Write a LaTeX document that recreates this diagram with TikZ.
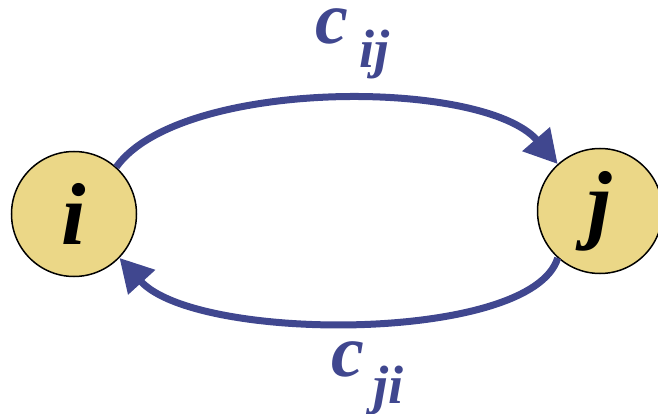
\documentclass[tikz,border=0pt]{standalone}
\usepackage{fontspec}
\setmainfont{Liberation Serif}[BoldItalicFont={Liberation Serif Bold Italic}, BoldFont={Liberation Serif Bold}, ItalicFont={Liberation Serif Italic}]
\usetikzlibrary{arrows.meta}
\definecolor{edgeblue}{RGB}{64,71,143}
\definecolor{nodefill}{RGB}{235,215,135}
\tikzset{
  vertex/.style={circle, draw=black, line width=1.5pt, fill=nodefill, minimum size=125pt, inner sep=0pt,
    font=\fontsize{88}{88}\selectfont\bfseries\itshape},
  edge/.style={draw=edgeblue, line width=7pt, -{Triangle[length=33pt,width=35pt]}},
  elabel/.style={anchor=base west, inner sep=0pt, text=edgeblue, font=\bfseries\itshape}
}
\begin{document}
\begin{tikzpicture}[x=1pt,y=-1pt]
\useasboundingbox (0,0) rectangle (658,414);
\node[vertex] (i) at (74,214) {i};
\node[vertex] (j) at (600,211) {j};
\draw[edge] (i.48) .. controls (180,78) and (483,78) .. (j.132);
\draw[edge] (j.-132) .. controls (532,343) and (197,343) .. (i.-44);
\node[elabel] (cij) at (315,44) {\fontsize{74}{74}\selectfont c\kern11pt\raisebox{-24pt}{\fontsize{54}{54}\selectfont ij}};
\node[elabel] (cji) at (331,376) {\fontsize{74}{74}\selectfont c\kern9pt\raisebox{-27pt}{\fontsize{54}{54}\selectfont ji}};
\end{tikzpicture}
\end{document}
